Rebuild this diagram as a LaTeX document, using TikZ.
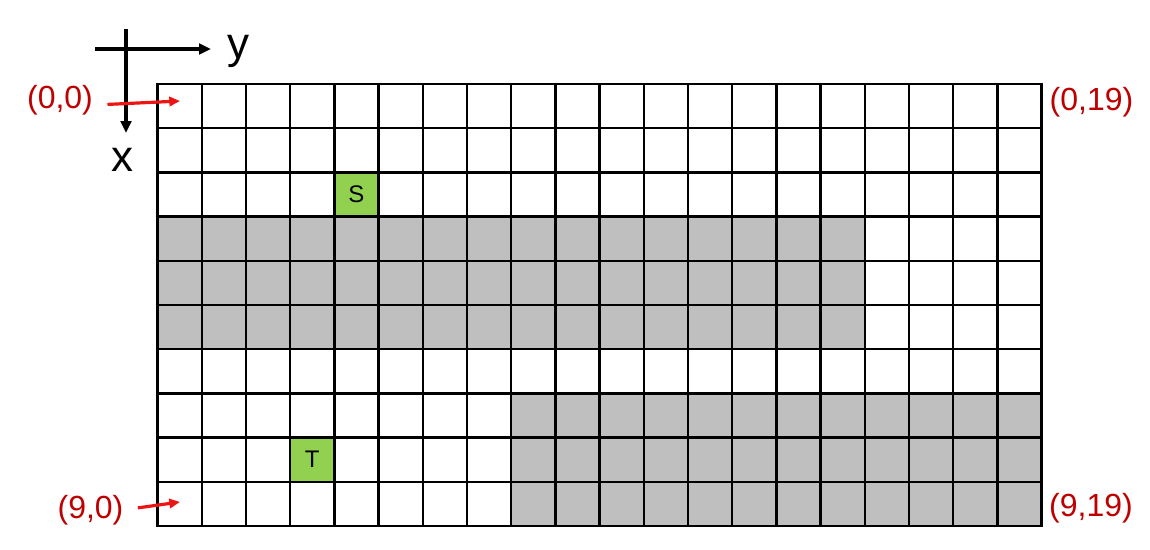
\documentclass[tikz,border=0pt]{standalone}
\usepackage{tikz}
\usepackage{xcolor}
\usepackage{fontspec}
\setmainfont{Liberation Sans}
\usetikzlibrary{arrows.meta}
\definecolor{labred}{rgb}{0.75,0,0}
\definecolor{arrred}{rgb}{0.93,0.08,0.08}
\definecolor{blockgray}{rgb}{0.75,0.75,0.75}
\definecolor{endgreen}{rgb}{0.57,0.82,0.31}

\begin{document}
\begin{tikzpicture}[x=0.75pt,y=0.75pt,yscale=-1,
  gridline/.style={line width=1.8pt,line cap=rect},
  axis/.style={line width=2.5pt,-{Triangle[length=9pt,width=8pt]}},
  pointer/.style={line width=2.4pt,color=arrred,-{Triangle[length=8pt,width=7pt]}},
  corner/.style={text=labred,font=\fontsize{24}{28}\selectfont,inner sep=0.75pt,anchor=base},
  axislabel/.style={font=\fontsize{33}{38}\selectfont,inner sep=0.75pt,anchor=base},
  endcell/.style={fill=endgreen,minimum size=33.15pt,inner sep=0pt,font=\fontsize{18}{20}\selectfont}]
%set diagram to the size of the reference
\useasboundingbox (0,0) rectangle (1150,550);

%Shape: Rectangle [blocked rows 3 to 5]
\fill [blockgray] (157.5,216.6) rectangle (864.7,349.2);
%Shape: Rectangle [blocked rows 7 to 9]
\fill [blockgray] (511.1,393.4) rectangle (1041.5,526);

% Start and target cells
\node (S) [endcell] at (356.4,194.5) {S};
\node (T) [endcell] at (312.2,459.7) {T};

%Grid lines
\foreach \i in {0,...,10} \draw [gridline] (157.5,84+\i*44.2) -- (1041.5,84+\i*44.2);
\foreach \j in {0,...,20} \draw [gridline] (157.5+\j*44.2,84) -- (157.5+\j*44.2,526);

%Straight Lines [axes]
\coordinate (yo) at (95,49);
\coordinate (ye) at (211,49);
\coordinate (xo) at (126,29);
\coordinate (xe) at (126,133);
\draw [axis] (yo) -- (ye);
\draw [axis] (xo) -- (xe);

% Text Node
\node (ylab) [axislabel] at (238,58) {y};
% Text Node
\node (xlab) [axislabel] at (122,171) {x};

% Corner labels
\node (c00) [corner] at (60,108) {(0,0)};
\node (c90) [corner] at (90.5,518) {(9,0)};
\node (c019) [corner] at (1091.5,110) {(0,19)};
\node (c919) [corner] at (1091,516) {(9,19)};

%Straight Lines [pointers]
\coordinate (p00) at (180,101);
\coordinate (p90) at (180,502);
\draw [pointer,shorten <=10pt] ([yshift=4pt]c00.east) -- (p00);
\draw [pointer,shorten <=10pt] (c90.east) -- (p90);

\end{tikzpicture}
\end{document}
